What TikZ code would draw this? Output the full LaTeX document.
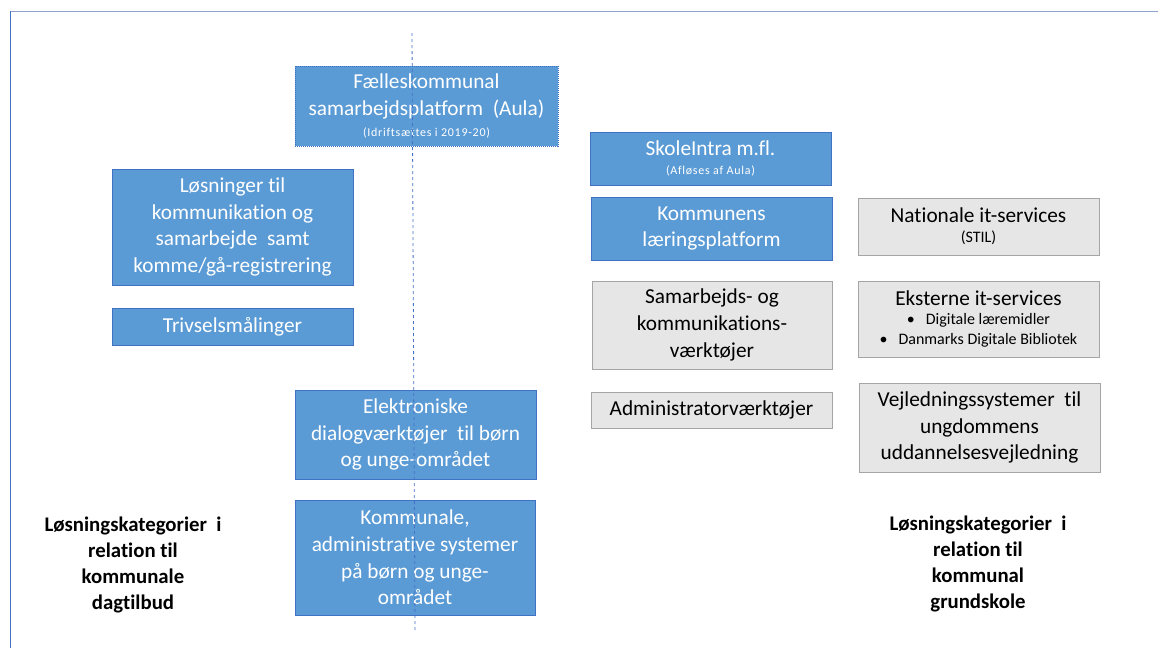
\documentclass[tikz,border=0pt]{standalone}
\usepackage{fontspec}
\setmainfont[Ligatures=NoCommon]{Carlito}
\usetikzlibrary{positioning}
\definecolor{boxblue}{RGB}{91,155,213}
\definecolor{edgeblue}{RGB}{65,113,196}
\definecolor{boxgray}{RGB}{231,230,230}
\definecolor{edgegray}{RGB}{165,165,165}
\definecolor{lineblue}{RGB}{68,114,196}
\definecolor{framegray}{RGB}{143,164,200}
\newcommand{\smalltxt}{\fontsize{12}{14}\selectfont\addfontfeature{LetterSpace=6}}

\begin{document}
\begin{tikzpicture}[x=1pt,y=-1pt]
  \tikzstyle{every node} = [inner sep = 2,
			    align = center]
  \tikzstyle{BlueBox} = [draw = edgeblue, fill = boxblue, text = white,
			 line width = 1pt, font = \fontsize{21.3}{26.7}\selectfont]
  \tikzstyle{GrayBox} = [draw = edgegray, fill = boxgray, text = black,
			 line width = 1pt, font = \fontsize{21.3}{26.7}\selectfont]
  \tikzstyle{Caption} = [font = \bfseries\fontsize{20.8}{25.7}\selectfont]
\useasboundingbox (0,0) rectangle (1158,648);
% frame
\draw[framegray, line width = 1pt] (10,11) -- (1158,11);
\draw[lineblue, line width = 1pt] (10,11) -- (10,648);

% left column
\node[BlueBox, densely dotted, minimum width = 263, minimum height = 80] (A0) at (426.5,106)
  {Fælleskommunal\\samarbejdsplatform\ \ (Aula)\\[-5pt]{\smalltxt (Idriftsættes i 2019-20)}};
\node[BlueBox, minimum width = 241, minimum height = 116] (A1) at (232.5,227)
  {Løsninger til\\kommunikation og\\samarbejde\ \ samt\\komme/gå-registrering};
\node[BlueBox, minimum width = 241, minimum height = 37] (A2) at (232.5,326.5) {Trivselsmålinger};
\node[BlueBox, minimum width = 241, minimum height = 89] (A3) at (415.5,434.5)
  {Elektroniske\\dialogværktøjer\ \ til børn\\og unge-området};
\node[BlueBox, minimum width = 240, minimum height = 115] (A4) at (415,557.5)
  {Kommunale,\\administrative systemer\\på børn og unge-\\området};

% right columns
\node[BlueBox, minimum width = 241, minimum height = 53] (B0) at (710.5,158.5)
  {SkoleIntra m.fl.\\[-7pt]{\smalltxt (Afløses af Aula)}};
\node[BlueBox, minimum width = 241, minimum height = 63] (B1) at (711.5,228.5)
  {Kommunens\\læringsplatform};
\node[GrayBox, minimum width = 240, minimum height = 88] (B2) at (712,325)
  {Samarbejds- og\\kommunikations-\\værktøjer};
\node[GrayBox, minimum width = 241, minimum height = 36] (B3) at (711.5,410) {Administratorværktøjer};
\node[GrayBox, minimum width = 241, minimum height = 57] (C0) at (978.5,226.5)
  {Nationale it-services\\[-7pt]{\fontsize{16}{18}\selectfont (STIL)}};
\node[GrayBox, minimum width = 241, minimum height = 76] (C1) at (978.5,319)
  {Eksterne it-services\\[-8pt]{\fontsize{16}{19}\selectfont •\ \ \ Digitale læremidler}\\[-6pt]{\fontsize{16}{19}\selectfont •\ \ \ Danmarks Digitale Bibliotek}};
\node[GrayBox, minimum width = 241, minimum height = 89] (C2) at (979.5,427.5)
  {Vejledningssystemer\ \ til\\ungdommens\\uddannelsesvejledning};

% captions
\node[Caption] (L0) at (133,565) {Løsningskategorier\ \ i\\relation til\\kommunale\\dagtilbud};
\node[Caption] (L1) at (978,564) {Løsningskategorier\ \ i\\relation til\\kommunal\\grundskole};

% divider
\coordinate (T0) at (412,33);
\coordinate (T1) at (415,632);
\draw[lineblue, dashed, line width = 0.8pt] (T0) -- (T1);
\end{tikzpicture}
\end{document}
